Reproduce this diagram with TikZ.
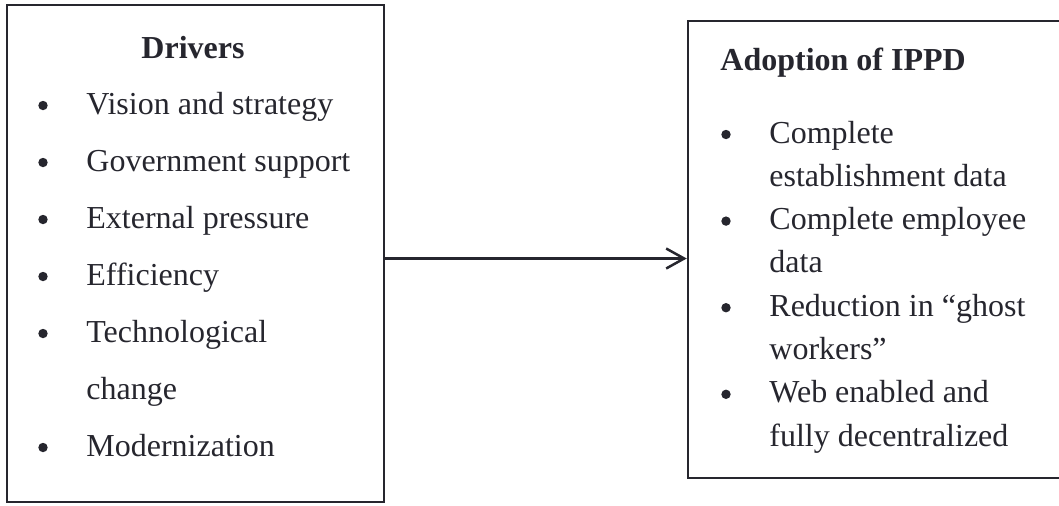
\documentclass[tikz,border=0pt]{standalone}
\usepackage{fontspec}
\setmainfont{Liberation Serif}
\usetikzlibrary{arrows.meta}
\definecolor{ink}{RGB}{38,38,46}
\tikzset{
  box/.style={draw=ink, line width=1.25pt, rectangle, inner sep=0pt},
  item/.style={anchor=base west, inner sep=0pt, text=ink, font=\fontsize{16}{19}\selectfont},
  bul/.style={circle, fill=ink, inner sep=0pt, minimum size=4.7pt},
  head/.style={inner sep=0pt, text=ink, font=\fontsize{16}{19}\selectfont\bfseries},
  arr/.style={draw=ink, line width=1.25pt, -{Straight Barb[length=9pt,width=10pt,line width=1.25pt]}}
}
\begin{document}
\begin{tikzpicture}[x=0.5pt,y=-0.5pt]
\useasboundingbox (0,0) rectangle (1059,505);
% boxes
\node[box, minimum width=188.5pt, minimum height=248.5pt] (drivers) at (195.5,253.5) {};
\node[box, minimum width=196pt, minimum height=228.5pt] (ippd) at (884,249.5) {};
% left box text
\node[head, anchor=base] (dh) at (193,58) {Drivers};
\foreach \t [count=\i] in {Vision and strategy,Government support,External pressure,Efficiency,Technological}{
  \node[bul] (lb\i) at (43,{114+57*(\i-1)-8.5}) {};
  \node[item] (lt\i) at (86,{114+57*(\i-1)}) {\t};
}
\node[item] (lt6) at (86,{114+57*5}) {change};
\node[bul] (lb7) at (43,{114+57*6-8.5}) {};
\node[item] (lt7) at (86,{114+57*6}) {Modernization};
% right box text
\node[head, anchor=base west] (rh) at (720,70.5) {Adoption of IPPD};
\node[bul] (rb1) at (726,134.5) {};
\node[item] (rt1) at (769,143) {Complete};
\node[item] (rt2) at (769,186.3) {establishment data};
\node[bul] (rb3) at (726,221.1) {};
\node[item] (rt3) at (769,229.6) {Complete employee};
\node[item] (rt4) at (769,272.9) {data};
\node[bul] (rb5) at (726,307.7) {};
\node[item] (rt5) at (769,316.2) {Reduction in “ghost};
\node[item] (rt6) at (769,359.5) {workers”};
\node[bul] (rb7) at (726,394.3) {};
\node[item] (rt7) at (769,402.8) {Web enabled and};
\node[item] (rt8) at (769,446.1) {fully decentralized};
% connector
\draw[arr] ([yshift=-2.5pt]drivers.east) -- ([yshift=-2.5pt]drivers.east -| ippd.west);
\end{tikzpicture}
\end{document}
